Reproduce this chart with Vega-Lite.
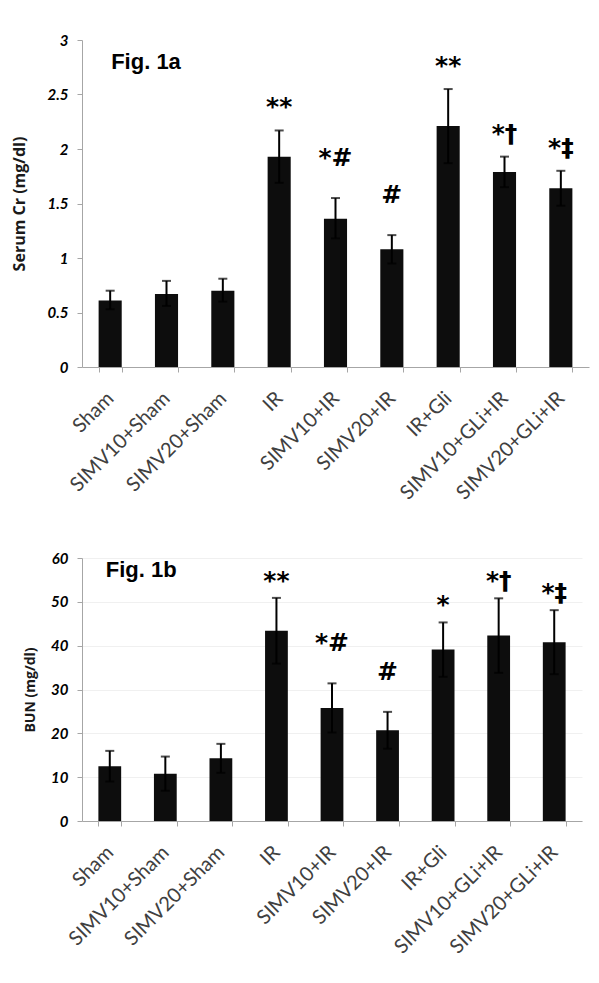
{
  "$schema": "https://vega.github.io/schema/vega-lite/v6.json",
  "background": "white",
  "padding": {"left": 11, "top": 33, "right": 8, "bottom": 5},
  "spacing": 47,
  "config": {
    "font": "Lato",
    "view": {"stroke": null},
    "axis": {
      "domainColor": "#a6a6a6",
      "tickColor": "#a6a6a6",
      "gridColor": "#f0f0f0",
      "labelColor": "#262626",
      "titleColor": "#1a1a1a"
    }
  },
  "datasets": {
    "cr": [
      {"group": "Sham", "mean": 0.61, "lo": 0.53, "hi": 0.70, "label": ""},
      {"group": "SIMV10+Sham", "mean": 0.67, "lo": 0.56, "hi": 0.79, "label": ""},
      {"group": "SIMV20+Sham", "mean": 0.70, "lo": 0.60, "hi": 0.81, "label": ""},
      {"group": "IR", "mean": 1.93, "lo": 1.69, "hi": 2.17, "label": "**"},
      {"group": "SIMV10+IR", "mean": 1.36, "lo": 1.18, "hi": 1.55, "label": "*#"},
      {"group": "SIMV20+IR", "mean": 1.08, "lo": 0.95, "hi": 1.21, "label": "#"},
      {"group": "IR+Gli", "mean": 2.21, "lo": 1.87, "hi": 2.55, "label": "**"},
      {"group": "SIMV10+GLi+IR", "mean": 1.79, "lo": 1.65, "hi": 1.93, "label": "*†"},
      {"group": "SIMV20+GLi+IR", "mean": 1.64, "lo": 1.48, "hi": 1.80, "label": "*‡"}
    ],
    "bun": [
      {"group": "Sham", "mean": 12.5, "lo": 9.0, "hi": 16.0, "label": ""},
      {"group": "SIMV10+Sham", "mean": 10.8, "lo": 6.9, "hi": 14.7, "label": ""},
      {"group": "SIMV20+Sham", "mean": 14.3, "lo": 11.0, "hi": 17.6, "label": ""},
      {"group": "IR", "mean": 43.4, "lo": 35.9, "hi": 50.9, "label": "**"},
      {"group": "SIMV10+IR", "mean": 25.8, "lo": 20.2, "hi": 31.4, "label": "*#"},
      {"group": "SIMV20+IR", "mean": 20.7, "lo": 16.5, "hi": 24.9, "label": "#"},
      {"group": "IR+Gli", "mean": 39.1, "lo": 32.9, "hi": 45.3, "label": "*"},
      {"group": "SIMV10+GLi+IR", "mean": 42.3, "lo": 33.8, "hi": 50.8, "label": "*†"},
      {"group": "SIMV20+GLi+IR", "mean": 40.8, "lo": 33.5, "hi": 48.1, "label": "*‡"}
    ]
  },
  "vconcat": [
    {
      "width": 507,
      "height": 327,
      "data": {"name": "cr"},
      "encoding": {
        "x": {
          "field": "group", "type": "nominal", "sort": null,
          "scale": {"paddingInner": 0.59, "paddingOuter": 0.295},
          "axis": {"title": null, "labelAngle": -45, "labelAlign": "right", "labelBaseline": "middle", "labelFontSize": 20, "labelPadding": 23, "tickBand": "extent", "tickSize": 5, "labelColor": "#404040"}
        }
      },
      "layer": [
        {
          "mark": {"type": "bar", "color": "#0d0d0d"},
          "encoding": {
            "y": {
              "field": "mean", "type": "quantitative",
              "scale": {"domain": [0, 3], "nice": false},
              "axis": {"title": "Serum Cr (mg/dl)", "values": [0, 0.5, 1, 1.5, 2, 2.5, 3], "labelExpr": "'' + datum.value", "labelFontWeight": "bold", "labelFontStyle": "italic", "labelFontSize": 15, "labelColor": "#000", "labelPadding": 9, "tickSize": 5, "grid": false, "titleFont": "Open Sans", "titleFontSize": 16, "titleFontWeight": "bold", "titlePadding": 20}
            }
          }
        },
        {
          "mark": {"type": "rule", "color": "#000", "strokeWidth": 2},
          "encoding": {"y": {"field": "lo", "type": "quantitative"}, "y2": {"field": "hi"}}
        },
        {
          "mark": {"type": "tick", "color": "#000", "thickness": 2, "size": 9},
          "encoding": {"y": {"field": "hi", "type": "quantitative"}}
        },
        {
          "mark": {"type": "tick", "color": "#000", "thickness": 2, "size": 9},
          "encoding": {"y": {"field": "lo", "type": "quantitative"}}
        },
        {
          "transform": [{"filter": "indexof(datum.label, '#') >= 0"}],
          "mark": {"type": "text", "font": "DejaVu Sans", "fontWeight": "bold", "fontSize": 25, "baseline": "alphabetic", "dy": -32, "color": "#000"},
          "encoding": {"y": {"field": "hi", "type": "quantitative"}, "text": {"field": "label"}}
        },
        {
          "transform": [{"filter": "datum.label != '' && indexof(datum.label, '#') < 0"}],
          "mark": {"type": "text", "font": "DejaVu Sans", "fontWeight": "bold", "fontSize": 25, "baseline": "alphabetic", "dy": -15, "color": "#000"},
          "encoding": {"y": {"field": "hi", "type": "quantitative"}, "text": {"field": "label"}}
        },
        {
          "data": {"values": [{"fig": "Fig. 1a"}]},
          "mark": {"type": "text", "font": "Liberation Sans", "fontWeight": "bold", "fontSize": 22, "align": "left", "baseline": "alphabetic", "dx": 1, "color": "#000"},
          "encoding": {"x": {"datum": "Sham"}, "y": {"datum": 2.73}, "text": {"field": "fig"}}
        }
      ]
    },
    {
      "width": 500,
      "height": 263,
      "data": {"name": "bun"},
      "encoding": {
        "x": {
          "field": "group", "type": "nominal", "sort": null,
          "scale": {"paddingInner": 0.59, "paddingOuter": 0.295},
          "axis": {"title": null, "labelAngle": -45, "labelAlign": "right", "labelBaseline": "middle", "labelFontSize": 20, "labelPadding": 23, "tickBand": "extent", "tickSize": 5, "labelColor": "#404040"}
        }
      },
      "layer": [
        {
          "mark": {"type": "bar", "color": "#0d0d0d"},
          "encoding": {
            "y": {
              "field": "mean", "type": "quantitative",
              "scale": {"domain": [0, 60], "nice": false},
              "axis": {"title": "BUN (mg/dl)", "values": [0, 10, 20, 30, 40, 50, 60], "labelFontWeight": "bold", "labelFontStyle": "italic", "labelFontSize": 15, "labelColor": "#000", "labelPadding": 9, "tickSize": 5, "grid": true, "titleFont": "Open Sans", "titleFontSize": 14, "titleFontWeight": "bold", "titlePadding": 13}
            }
          }
        },
        {
          "mark": {"type": "rule", "color": "#000", "strokeWidth": 2},
          "encoding": {"y": {"field": "lo", "type": "quantitative"}, "y2": {"field": "hi"}}
        },
        {
          "mark": {"type": "tick", "color": "#000", "thickness": 2, "size": 9},
          "encoding": {"y": {"field": "hi", "type": "quantitative"}}
        },
        {
          "mark": {"type": "tick", "color": "#000", "thickness": 2, "size": 9},
          "encoding": {"y": {"field": "lo", "type": "quantitative"}}
        },
        {
          "transform": [{"filter": "indexof(datum.label, '#') >= 0"}],
          "mark": {"type": "text", "font": "DejaVu Sans", "fontWeight": "bold", "fontSize": 25, "baseline": "alphabetic", "dy": -32, "color": "#000"},
          "encoding": {"y": {"field": "hi", "type": "quantitative"}, "text": {"field": "label"}}
        },
        {
          "transform": [{"filter": "datum.label != '' && indexof(datum.label, '#') < 0"}],
          "mark": {"type": "text", "font": "DejaVu Sans", "fontWeight": "bold", "fontSize": 25, "baseline": "alphabetic", "dy": -9, "color": "#000"},
          "encoding": {"y": {"field": "hi", "type": "quantitative"}, "text": {"field": "label"}}
        },
        {
          "data": {"values": [{"fig": "Fig. 1b"}]},
          "mark": {"type": "text", "font": "Liberation Sans", "fontWeight": "bold", "fontSize": 22, "align": "left", "baseline": "alphabetic", "dx": -4, "color": "#000"},
          "encoding": {"x": {"datum": "Sham"}, "y": {"datum": 55.7}, "text": {"field": "fig"}}
        }
      ]
    }
  ]
}
